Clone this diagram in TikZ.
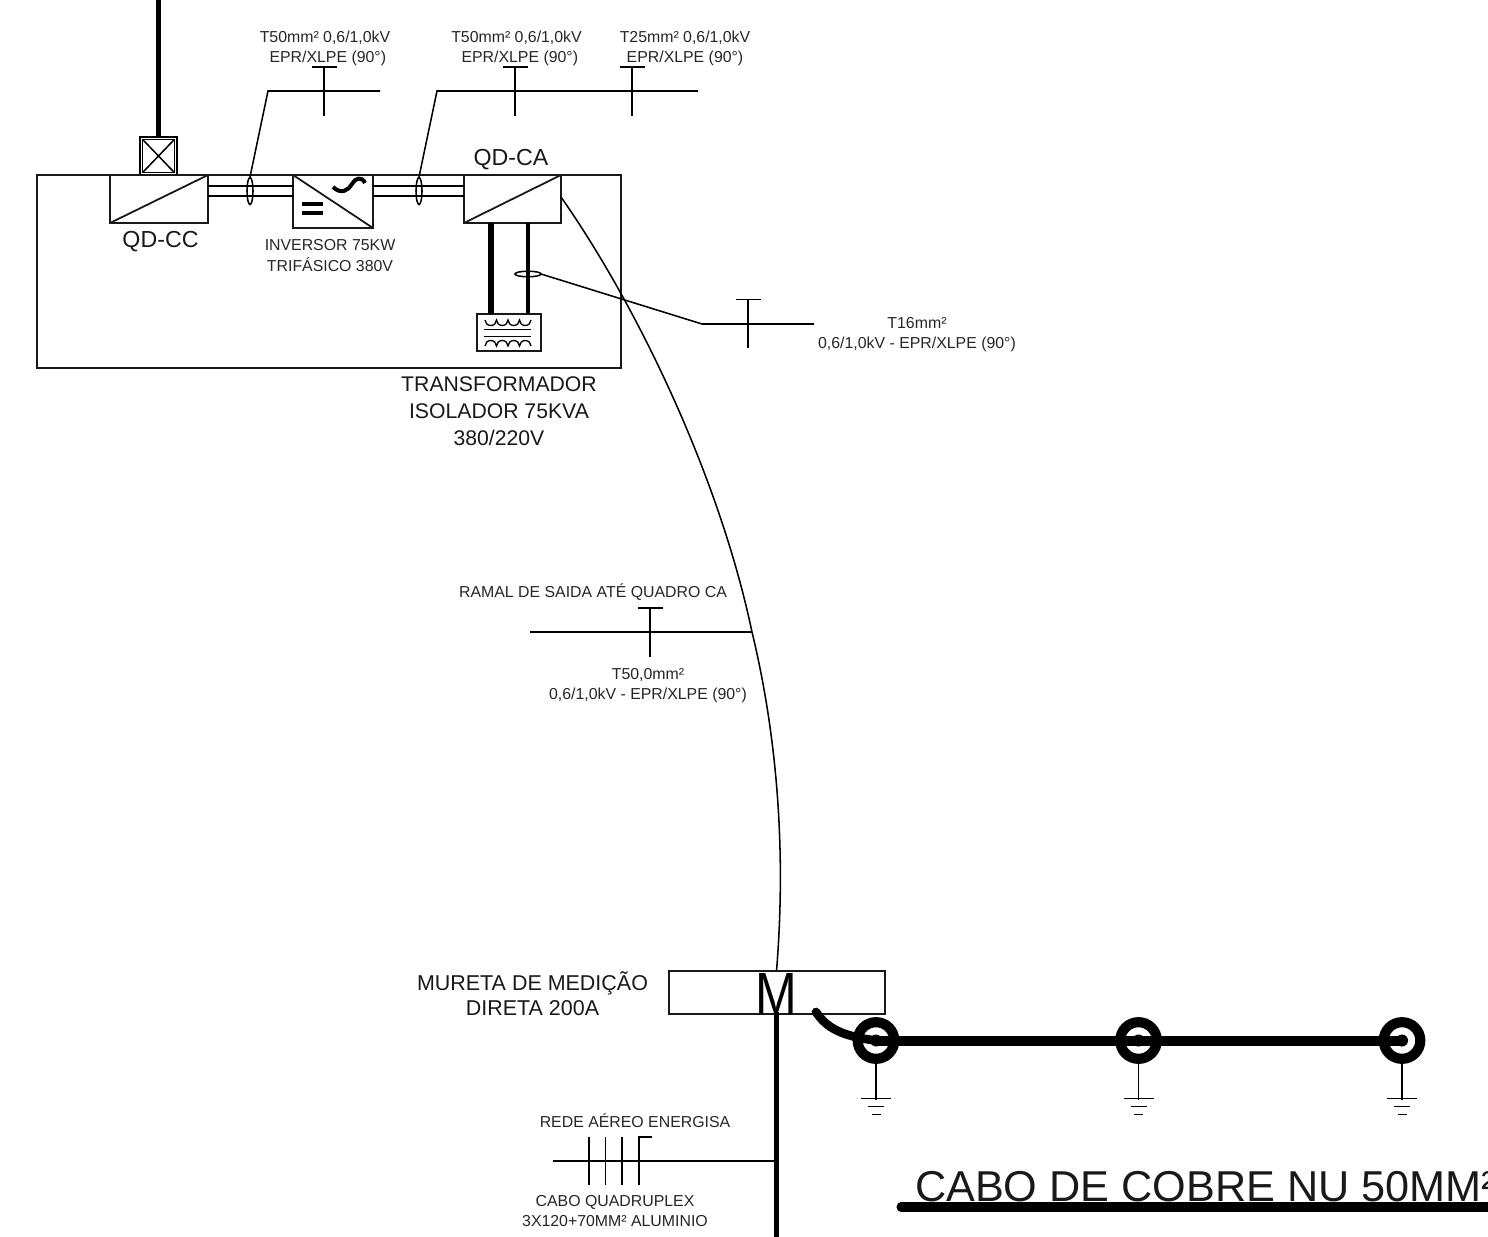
\documentclass[tikz,border=0pt]{standalone}
\usepackage{fontspec}
\setmainfont{Liberation Sans}
\usetikzlibrary{calc}
\tikzset{
  x=0.75pt,y=-0.75pt,
  every node/.style={outer sep=0pt},
  thinl/.style={line width=1.35pt,black!90},
  wire/.style={line width=1.15pt,black},
  heavy/.style={line width=3.6pt,black},
  lab/.style={inner sep=0pt,align=center,font=\fontsize{11.9pt}{15pt}\selectfont,text=black!85},
  bigl/.style={inner sep=0pt,align=center,font=\fontsize{17.4pt}{20.25pt}\selectfont,text=black!90},
  midl/.style={inner sep=0pt,align=center,font=\fontsize{15.9pt}{20.25pt}\selectfont,text=black!90},
  ring/.style={circle,draw=black,line width=7.6pt,minimum size=27.5pt,inner sep=0pt,fill=white},
  dot/.style={circle,fill=black,minimum size=9pt,inner sep=0pt},
}
\newcommand{\gndsym}[1]{%
  \draw[wire] (#1) -- ++(0,59);
  \draw[wire,line width=1.3pt] ($(#1)+(-15,58)$) -- ++(30,0);
  \draw[wire,line width=1.3pt] ($(#1)+(-8,66)$) -- ++(16,0);
  \draw[wire,line width=1.3pt] ($(#1)+(-4.5,74)$) -- ++(9,0);
}
\newcommand{\tmark}[2]{%
  \draw[wire] (#1,#2) -- ++(0,49);
  \draw[wire] (#1-12.5,#2) -- ++(25,0);
}
\begin{document}
\begin{tikzpicture}
\useasboundingbox (0,0) rectangle (1488,1237);
% main enclosure
\node[draw,thinl,minimum width=438pt,minimum height=144.75pt,inner sep=0pt,anchor=north west] (panel) at (37,175) {};
% service entrance
\coordinate (top) at (158.5,0);
\node[draw,line width=1pt,minimum width=27.75pt,minimum height=28.5pt,inner sep=0pt,anchor=north west] (stringbox) at (140,137) {};
\node[draw,line width=1pt,minimum width=24pt,minimum height=25pt,inner sep=0pt] (stringin) at (stringbox.center) {};
\draw[wire] (stringin.north west) -- (stringin.south east) (stringin.north east) -- (stringin.south west);
\draw[heavy,line width=3.8pt] (top) -- (stringbox.north);
% QD-CC
\node[draw,thinl,minimum width=73.5pt,minimum height=36pt,inner sep=0pt,anchor=north west] (qdcc) at (110,175) {};
\draw[thinl] (qdcc.south west) -- (qdcc.north east);
\node[bigl] (qdcct) at (160.5,241.5) {QD-CC};
% inverter
\node[draw,thinl,minimum width=60pt,minimum height=39.75pt,inner sep=0pt,anchor=north west] (inv) at (293,175) {};
\draw[thinl] (inv.north west) -- (inv.south east);
\draw[line width=3.2pt] (302,204) -- (323,204) (302,213) -- (323,213);
\draw[line width=3pt] (333,187) .. controls (341,195) and (349,190) .. (352,184) .. controls (355,178) and (362,176) .. (365,183);
\node[lab] (invt) at (330,255.5) {INVERSOR 75KW\\[1pt]TRIFÁSICO 380V};
% QD-CA
\node[draw,thinl,minimum width=72.75pt,minimum height=36pt,inner sep=0pt,anchor=north west] (qdca) at (464,175) {};
\draw[thinl] (qdca.south west) -- (qdca.north east);
\node[bigl] (qdcat) at (511,160) {QD-CA};
% DC and AC busbars
\foreach \yy in {186,196} {
  \draw[wire] (qdcc.east |- 0,\yy) -- (inv.west |- 0,\yy);
  \draw[wire] (inv.east |- 0,\yy) -- (qdca.west |- 0,\yy);
}
\draw[wire] (250,191) ellipse [x radius=3,y radius=13.5];
\draw[wire] (419,191) ellipse [x radius=3,y radius=13.5];
\draw[wire] (250,177) -- (268,91) -- (380,91);
\draw[wire] (419,177) -- (437,91) -- (698,91);
\tmark{324}{67}
\tmark{515}{67}
\tmark{632}{67}
\node[lab] at (325,48.5) {T50mm² 0,6/1,0kV\\\hspace*{4.2pt}EPR/XLPE (90°)};
\node[lab] at (516.5,48.5) {T50mm² 0,6/1,0kV\\\hspace*{5pt}EPR/XLPE (90°)};
\node[lab] at (685,48.5) {T25mm² 0,6/1,0kV\\EPR/XLPE (90°)};
% transformer
\node[draw,thinl,minimum width=48pt,minimum height=27.75pt,inner sep=0pt,anchor=north west] (trafo) at (477,314) {};
\draw[heavy,line width=3.8pt] (491,223) -- (491,314);
\draw[heavy,line width=3.1pt] (528,223) -- (528,314);
\draw[wire,line width=1pt] (485,320) arc[start angle=180,end angle=0,x radius=5.75,y radius=5.5]
  arc[start angle=180,end angle=0,x radius=5.75,y radius=5.5]
  arc[start angle=180,end angle=0,x radius=5.75,y radius=5.5]
  arc[start angle=180,end angle=0,x radius=5.75,y radius=5.5];
\draw[wire,line width=1.4pt] (484,329.5) -- (531,329.5) (484,336.5) -- (531,336.5);
\draw[wire,line width=1pt] (485,346) arc[start angle=180,end angle=360,x radius=5.75,y radius=5.5]
  arc[start angle=180,end angle=360,x radius=5.75,y radius=5.5]
  arc[start angle=180,end angle=360,x radius=5.75,y radius=5.5]
  arc[start angle=180,end angle=360,x radius=5.75,y radius=5.5];
\draw[wire] (528,274) ellipse [x radius=13,y radius=2.8];
\draw[wire] (541,274) -- (702,324) -- (814,324);
\tmark{748}{299.5}
\node[lab] at (917,335) {T16mm²\\0,6/1,0kV - EPR/XLPE (90°)};
\node[midl] at (499,411) {TRANSFORMADOR\\ISOLADOR 75KVA\\380/220V};
% meter
\node[draw,thinl,minimum width=162pt,minimum height=32.25pt,inner sep=0pt,anchor=north west] (meter) at (669,971) {};
\node[inner sep=0pt,anchor=base,font=\fontsize{44.7pt}{44.7pt}\selectfont] (mt) at (776,1014) {\scalebox{0.84}[1]{M}};
\node[midl,font=\fontsize{16.1pt}{18.75pt}\selectfont] at (532.5,993.5) {MURETA DE MEDIÇÃO\\DIRETA 200A};
% outgoing cable
\coordinate (mtop) at (776.5,971);
\coordinate (mid) at (752,632);
\draw[wire] (561,197) .. controls (640,310) and (720,480) .. (mid)
  .. controls (772,715) and (788,830) .. (mtop);
\draw[wire] (530,632) -- (mid);
\tmark{650}{608}
\node[lab] at (593,592) {RAMAL DE SAIDA ATÉ QUADRO CA};
\node[lab] at (648,686) {T50,0mm²\\0,6/1,0kV - EPR/XLPE (90°)};
% network
\coordinate (nb) at (776.5,1237);
\draw[heavy] (776.5,1012) -- (nb);
\draw[wire] (553,1161) -- (776.5,1161);
\draw[wire] (589,1137) -- ++(0,48);
\draw[wire] (605.5,1137) -- ++(0,48);
\draw[wire] (622,1137) -- ++(0,48);
\draw[wire] (639,1185) -- (639,1137) -- (652,1137);
\node[lab] at (635,1120.5) {REDE AÉREO ENERGISA};
\node[lab] at (615,1211.5) {CABO QUADRUPLEX\\3X120+70MM² ALUMINIO};
% grounding
\node[ring] (g1) at (876,1040.5) {};
\node[ring] (g2) at (1138.5,1040.5) {};
\node[ring] (g3) at (1402,1040.5) {};
\draw[line width=6.5pt,line cap=round] (816,1012) .. controls (826,1027) and (840,1036) .. (g1.center);
\draw[line width=7.5pt] (g1.center) -- (g3.center);
\foreach \g in {g1,g2,g3} {\node[dot] at (\g) {}; \gndsym{\g}}
\draw[line width=6.8pt,line cap=round] (901,1207) -- (1500,1207);
\node[anchor=base west,inner sep=0pt,font=\fontsize{32.4pt}{36pt}\selectfont,text=black!90] (title) at (915,1201) {CABO DE COBRE NU 50MM²};
\end{tikzpicture}
\end{document}
